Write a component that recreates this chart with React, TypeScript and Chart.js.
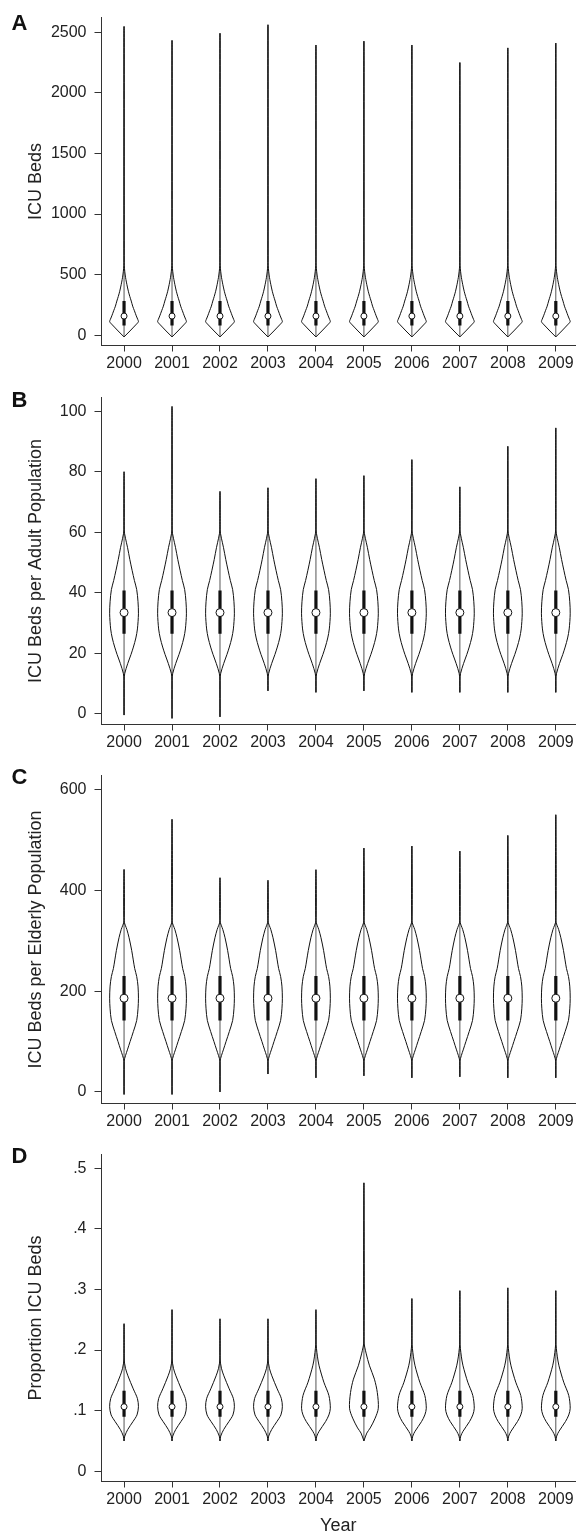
import React, { useEffect, useRef } from "react";
import { Chart, registerables } from "chart.js";

Chart.register(...registerables);

const FONT = "'Liberation Sans', Arial, Helvetica, sans-serif";

const years = ["2000", "2001", "2002", "2003", "2004", "2005", "2006", "2007", "2008", "2009"];

// Panel A: ICU Beds
const bedsTicks = [0, 500, 1000, 1500, 2000, 2500];
const bedsTickLabels = ["0", "500", "1000", "1500", "2000", "2500"];
const bedsMax = [2548, 2433, 2492, 2562, 2395, 2427, 2395, 2250, 2371, 2411];
const bedsMin = [-14, -14, -14, -14, -14, -14, -14, -14, -14, -14];
const bedsBox = [80, 158, 282]; // q1, median, q3
const bedsProfileValues = [-14, 10, 35, 60, 85, 100, 113, 131, 160, 202, 240, 282, 320, 363, 417, 460, 497, 551, 600];
const bedsProfileDensity = [0, 0.2, 0.41, 0.61, 0.81, 0.93, 1.0, 0.95, 0.85, 0.72, 0.6, 0.5, 0.4, 0.3, 0.2, 0.13, 0.08, 0.03, 0];

// Panel B: ICU Beds per Adult Population
const adultTicks = [0, 20, 40, 60, 80, 100];
const adultTickLabels = ["0", "20", "40", "60", "80", "100"];
const adultMax = [80, 101.6, 73.5, 74.7, 77.7, 78.7, 84, 75, 88.4, 94.5];
const adultMin = [-0.5, -1.6, -1.1, 7.5, 7, 7.5, 7, 7, 7, 7];
const adultBox = [26.4, 33.4, 40.7];
const adultProfileValues = [11, 13.3, 16.6, 19.5, 22, 25, 28, 33, 37, 41, 44, 47.4, 51, 55, 58, 61];
const adultProfileDensity = [0, 0.05, 0.26, 0.48, 0.65, 0.82, 0.93, 1.0, 0.97, 0.88, 0.72, 0.56, 0.4, 0.24, 0.1, 0];

// Panel C: ICU Beds per Elderly Population
const elderlyTicks = [0, 200, 400, 600];
const elderlyTickLabels = ["0", "200", "400", "600"];
const elderlyMax = [441.5, 541, 425, 420, 441, 484, 488, 478, 509, 550];
const elderlyMin = [-5, -5, 0, 35.6, 28, 32, 28, 30, 28, 28];
const elderlyBox = [142, 186, 230];
const elderlyProfileValues = [60, 72, 85, 100, 120, 142, 165, 186, 210, 229, 245, 262, 281, 306, 322, 340];
const elderlyProfileDensity = [0, 0.1, 0.25, 0.42, 0.65, 0.88, 0.97, 1.0, 0.97, 0.88, 0.74, 0.64, 0.53, 0.35, 0.2, 0];

// Panel D: Proportion ICU Beds
const propTicks = [0, 0.1, 0.2, 0.3, 0.4, 0.5];
const propTickLabels = ["0", ".1", ".2", ".3", ".4", ".5"];
const propMax = [0.2435, 0.2667, 0.2516, 0.2516, 0.2667, 0.476, 0.285, 0.298, 0.3027, 0.298];
const propMin = [0.05, 0.05, 0.05, 0.05, 0.05, 0.05, 0.05, 0.05, 0.05, 0.05];
const propBox = [0.09, 0.1065, 0.133];
const propShapeByYear = [0, 0, 0, 0, 1, 2, 1, 1, 1, 1];
const propEarlyValues = [0.05, 0.058, 0.069, 0.082, 0.093, 0.1065, 0.12, 0.136, 0.1575, 0.17, 0.187];
const propEarlyDensity = [0, 0.05, 0.26, 0.62, 0.9, 1.0, 0.93, 0.64, 0.27, 0.1, 0];
const propLateValues = [0.05, 0.058, 0.066, 0.082, 0.093, 0.104, 0.125, 0.147, 0.174, 0.19, 0.215];
const propLateDensity = [0, 0.06, 0.22, 0.67, 0.9, 1.0, 0.9, 0.55, 0.22, 0.1, 0];
const prop2005Values = [0.05, 0.063, 0.0715, 0.0876, 0.104, 0.13, 0.152, 0.174, 0.195, 0.215];
const prop2005Density = [0, 0.2, 0.44, 0.78, 1.0, 0.93, 0.73, 0.39, 0.15, 0];

const HALF_WIDTH = 0.3;

type Profile = { values: number[]; density: number[] };
type PanelDef = {
  letter: string;
  top: number;
  height: number;
  letterTop: number;
  xAxisHeight: number;
  yTitle: string;
  xTitle?: string;
  yMin: number;
  yMax: number;
  ticks: number[];
  tickLabels: string[];
  max: number[];
  min: number[];
  box: number[];
  profiles: Profile[];
  shape?: number[];
  medianRadius: number;
};

const panels: PanelDef[] = [
  {
    letter: "A", top: 0, height: 380, letterTop: 12, xAxisHeight: 34.5,
    yTitle: "ICU Beds", yMin: -84.7, yMax: 2621,
    ticks: bedsTicks, tickLabels: bedsTickLabels, max: bedsMax, min: bedsMin, box: bedsBox,
    profiles: [{ values: bedsProfileValues, density: bedsProfileDensity }], medianRadius: 3,
  },
  {
    letter: "B", top: 380, height: 378, letterTop: 389, xAxisHeight: 33.5,
    yTitle: "ICU Beds per Adult Population", yMin: -3.62, yMax: 104.53,
    ticks: adultTicks, tickLabels: adultTickLabels, max: adultMax, min: adultMin, box: adultBox,
    profiles: [{ values: adultProfileValues, density: adultProfileDensity }], medianRadius: 4,
  },
  {
    letter: "C", top: 758, height: 379, letterTop: 765.5, xAxisHeight: 33.5,
    yTitle: "ICU Beds per Elderly Population", yMin: -22.9, yMax: 627.7,
    ticks: elderlyTicks, tickLabels: elderlyTickLabels, max: elderlyMax, min: elderlyMin, box: elderlyBox,
    profiles: [{ values: elderlyProfileValues, density: elderlyProfileDensity }], medianRadius: 4,
  },
  {
    letter: "D", top: 1137, height: 400, letterTop: 1145, xAxisHeight: 55.5,
    yTitle: "Proportion ICU Beds", xTitle: "Year", yMin: -0.0169, yMax: 0.5226,
    ticks: propTicks, tickLabels: propTickLabels, max: propMax, min: propMin, box: propBox,
    profiles: [
      { values: propEarlyValues, density: propEarlyDensity },
      { values: propLateValues, density: propLateDensity },
      { values: prop2005Values, density: prop2005Density },
    ],
    shape: propShapeByYear, medianRadius: 3,
  },
];

function violinOutline(i: number, prof: Profile, min: number, max: number) {
  const vals = prof.values;
  const dens = prof.density;
  const left: { x: number; y: number }[] = [];
  const right: { x: number; y: number }[] = [];
  vals.forEach((v, k) => {
    left.push({ x: i - dens[k] * HALF_WIDTH, y: v });
    right.push({ x: i + dens[k] * HALF_WIDTH, y: v });
  });
  const pts: { x: number; y: number }[] = [];
  if (min < vals[0]) pts.push({ x: i, y: min });
  pts.push(...left);
  if (max > vals[vals.length - 1]) pts.push({ x: i, y: max });
  pts.push(...right.reverse());
  if (min < vals[0]) pts.push({ x: i, y: min });
  return pts;
}

function Panel({ p }: { p: PanelDef }) {
  const ref = useRef<HTMLCanvasElement | null>(null);
  useEffect(() => {
    if (!ref.current) return;
    const datasets: any[] = [];
    years.forEach((_, i) => {
      const prof = p.profiles[p.shape ? p.shape[i] : 0];
      datasets.push({
        type: "line",
        data: violinOutline(i, prof, p.min[i], p.max[i]),
        borderColor: "#111",
        borderWidth: 1,
        pointRadius: 0,
        tension: 0.3,
        fill: false,
        order: 2,
      });
    });
    datasets.push({
      type: "line",
      data: years.flatMap((_, i) => [
        { x: i, y: p.min[i] },
        { x: i, y: p.max[i] },
        { x: i, y: null },
      ]),
      borderColor: "#555",
      borderWidth: 1,
      pointRadius: 0,
      tension: 0,
      spanGaps: false,
      order: 3,
    });
    datasets.push({
      type: "line",
      data: years.flatMap((_, i) => [
        { x: i, y: p.box[0] },
        { x: i, y: p.box[2] },
        { x: i, y: null },
      ]),
      borderColor: "#111",
      borderWidth: 3.2,
      borderCapStyle: "butt",
      pointRadius: 0,
      tension: 0,
      spanGaps: false,
      order: 1,
    });
    datasets.push({
      type: "line",
      data: years.map((_, i) => ({ x: i, y: p.box[1] })),
      showLine: false,
      pointRadius: p.medianRadius,
      pointBackgroundColor: "#fff",
      pointBorderColor: "#111",
      pointBorderWidth: 1,
      order: 0,
    });

    const chart = new Chart(ref.current, {
      type: "line",
      data: { datasets },
      options: {
        responsive: false,
        animation: false,
        events: [],
        layout: { padding: { top: 10, left: 0, right: 0, bottom: 0 } },
        plugins: { legend: { display: false }, tooltip: { enabled: false } },
        scales: {
          x: {
            type: "linear",
            min: -0.47,
            max: 9.4,
            afterBuildTicks: (s: any) => {
              s.ticks = years.map((_, i) => ({ value: i }));
            },
            afterFit: (s: any) => {
              s.height = p.xAxisHeight;
            },
            ticks: {
              autoSkip: false,
              maxRotation: 0,
              minRotation: 0,
              padding: 2.5,
              color: "#222",
              font: { size: 16, family: FONT },
              callback: (_v: any, idx: number) => years[idx],
            },
            grid: { display: true, drawOnChartArea: false, drawTicks: true, tickLength: 6, tickColor: "#333", lineWidth: 1 },
            border: { display: true, color: "#333", width: 1 },
            title: p.xTitle
              ? { display: true, text: p.xTitle, color: "#222", font: { size: 18, family: FONT }, padding: { top: 0, bottom: 0 } }
              : { display: false },
          },
          y: {
            type: "linear",
            min: p.yMin,
            max: p.yMax,
            afterBuildTicks: (s: any) => {
              s.ticks = p.ticks.map((v) => ({ value: v }));
            },
            afterFit: (s: any) => {
              s.width = 101.5;
            },
            ticks: {
              padding: 8,
              color: "#222",
              font: { size: 16, family: FONT },
              callback: (_v: any, idx: number) => p.tickLabels[idx],
            },
            grid: { display: true, drawOnChartArea: false, drawTicks: true, tickLength: 7, tickColor: "#333", lineWidth: 1 },
            border: { display: true, color: "#333", width: 1 },
            title: {
              display: true,
              text: p.yTitle,
              color: "#222",
              font: { size: 18, family: FONT },
              padding: { top: 25.7, bottom: 0 },
            },
          },
        },
      } as any,
    });
    return () => chart.destroy();
  }, [p]);

  return (
    <>
      <canvas
        ref={ref}
        width={580}
        height={p.height}
        style={{ position: "absolute", left: 0, top: p.top, width: 580, height: p.height, display: "block" }}
      />
      <div
        style={{
          position: "absolute",
          left: 11.5,
          top: p.letterTop,
          fontFamily: FONT,
          fontWeight: "bold",
          fontSize: 22,
          lineHeight: "22px",
          color: "#111",
        }}
      >
        {p.letter}
      </div>
    </>
  );
}

export default function App() {
  return (
    <div
      style={{
        position: "absolute",
        left: 0,
        top: 0,
        width: 580,
        height: 1534,
        overflow: "hidden",
        background: "#fff",
      }}
    >
      {panels.map((p) => (
        <Panel key={p.letter} p={p} />
      ))}
    </div>
  );
}
